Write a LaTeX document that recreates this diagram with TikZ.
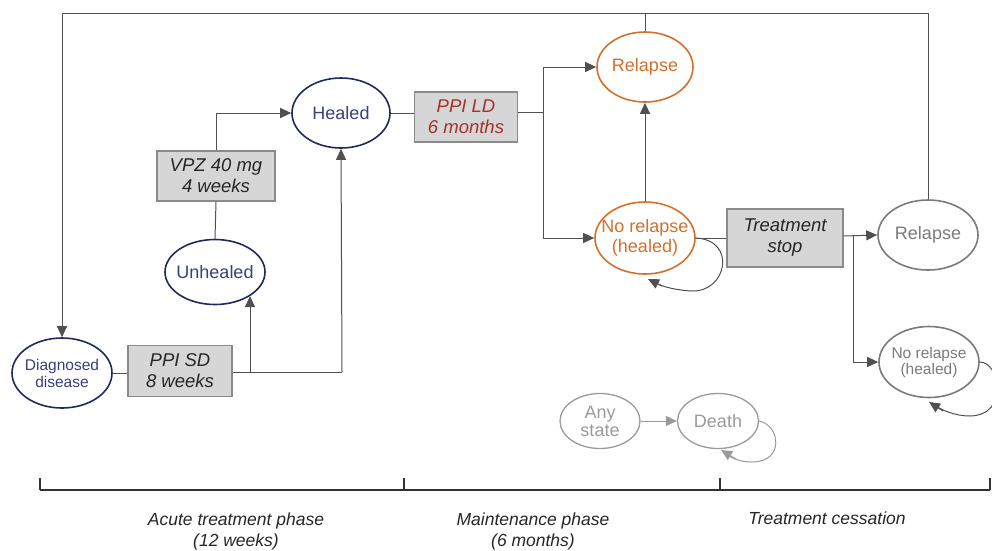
\documentclass[tikz,border=0pt]{standalone}
\usepackage{fontspec}
\setmainfont{Liberation Sans}
\usetikzlibrary{arrows.meta,shapes.geometric,calc}
\definecolor{navy}{HTML}{1E2A5E}
\definecolor{navytxt}{HTML}{3A3F7A}
\definecolor{orng}{HTML}{D2702C}
\definecolor{dred}{HTML}{A3322B}
\definecolor{gry}{HTML}{7A7A7A}
\definecolor{lgry}{HTML}{9A9A9A}
\definecolor{boxfill}{HTML}{D6D6D6}
\definecolor{boxline}{HTML}{8A8A8A}
\definecolor{lnk}{HTML}{505050}
\tikzset{
  st/.style={ellipse, draw, line width=1.6pt, inner sep=0pt, align=center},
  navyst/.style={st, draw=navy, text=navytxt, minimum width=98pt, minimum height=68pt},
  orst/.style={st, draw=orng, text=orng, minimum width=96pt, minimum height=70pt, font=\fontsize{18}{20}\selectfont},
  grst/.style={st, draw=gry, text=gry, minimum width=98pt, minimum height=70pt},
  ltst/.style={st, draw=lgry, text=lgry, line width=1.3pt, minimum width=80pt, minimum height=55pt, font=\fontsize{18}{18}\selectfont},
  tbox/.style={draw=boxline, fill=boxfill, line width=1.4pt, align=center, inner sep=0pt, font=\itshape\fontsize{18.5}{21}\selectfont},
  ln/.style={draw=lnk, line width=1pt},
  tip/.style={-{Triangle[length=11pt,width=10pt]}},
  arr/.style={ln, tip},
  ph/.style={font=\itshape\fontsize{17.5}{21}\selectfont, align=center, text=black!85}
}
\begin{document}
\begin{tikzpicture}[x=1pt,y=-1pt]
\useasboundingbox (0,0) rectangle (992,550);
% nodes
\node[navyst, minimum width=100pt, minimum height=70pt, inner xsep=-3pt, font=\fontsize{15.5}{17}\selectfont] (dd) at (62,373) {Diagnosed\\disease};
\node[tbox, minimum width=104pt, minimum height=51pt, text=black!85] (sd) at (180,371) {PPI SD\\8 weeks};
\node[navyst, minimum width=100pt, minimum height=65pt, inner xsep=-4.5pt, font=\fontsize{18}{20}\selectfont] (un) at (215,272) {Unhealed};
\node[tbox, minimum width=118pt, minimum height=50pt, text=black!85] (vpz) at (216,176) {VPZ 40 mg\\4 weeks};
\node[navyst, minimum width=98pt, minimum height=70pt, font=\fontsize{18}{20}\selectfont] (he) at (341,113) {Healed};
\node[tbox, minimum width=103pt, minimum height=50pt, text=dred] (ld) at (466,117) {PPI LD\\6 months};
\node[orst] (rl) at (645,67) {Relapse};
\node[orst, minimum width=100pt, minimum height=72pt, inner xsep=-8.5pt, font=\fontsize{18}{20}\selectfont] (nr) at (645,238) {No relapse\\(healed)};
\node[tbox, minimum width=116pt, minimum height=58pt, text=black!85] (ts) at (785,238) {Treatment\\stop};
\node[grst, minimum width=100pt, font=\fontsize{18}{20}\selectfont] (rg) at (928,235) {Relapse};
\node[grst, minimum width=100pt, minimum height=71pt, inner xsep=-4pt, font=\fontsize{15.5}{16}\selectfont] (ng) at (929,362) {No relapse\\(healed)};
\node[ltst] (any) at (600,421) {Any\\state};
\node[ltst, minimum width=81pt] (de) at (718,421) {Death};
% connectors, acute phase
\coordinate (j1) at (250,372);
\coordinate (j2) at (342,372);
\draw[ln] (dd.east) -- (sd.west |- dd.east);
\draw[ln] (sd.east |- j1) -- (j2);
\draw[arr] (j1) -- ($(un.center)+(35,24)$);
\draw[arr] (j2) -- (he.south);
\draw[ln] (un.north) -- (vpz.south);
\draw[arr] (vpz.north) |- (he.west);
% maintenance
\coordinate (j3) at (543,112);
\draw[ln] (he.east) -- (ld.west |- he.east);
\draw[ln] (ld.east |- j3) -- (j3);
\draw[arr] (j3) |- (rl.west);
\draw[arr] (j3) |- (nr.west);
\draw[arr] (nr.north) -- (rl.south);
\draw[ln] (nr.east) -- (ts.west);
\draw[ln] (nr.east) .. controls (737,240) and (727,292) .. (692,291)
  .. controls (672,290) and (657,285) .. (650,280);
\draw[arr] (662,286) -- (648,279);
% cessation
\coordinate (j4) at (853,236);
\draw[arr] (ts.east |- j4) -- (rg.west);
\draw[arr] (j4) |- (ng.west);
\draw[ln] (ng.east) .. controls (1000,362) and (1010,415) .. (970,416)
  .. controls (955,416) and (940,410) .. (932,403);
\draw[arr] (943,411) -- (929,402);
% top feedback
\coordinate (t1) at (62,13);
\coordinate (t2) at (928,13);
\draw[ln] (rl.north) -- (rl.north |- t1);
\draw[arr] (rg.north) -- (t2) -- (t1) -- (dd.north);
% death
\draw[ln, draw=lgry, tip] (any.east) -- (de.west);
\draw[ln, draw=lgry] (de.east) .. controls (780,425) and (785,462) .. (752,462)
  .. controls (740,462) and (730,458) .. (724,452);
\draw[draw=lgry, line width=1pt, tip] (736,459) -- (721,450);
% timeline
\coordinate (a0) at (40,490);
\coordinate (a1) at (404,490);
\coordinate (a2) at (720,490);
\coordinate (a3) at (990,490);
\draw[line width=1.3pt, black!80] (a0) -- (a3);
\foreach \p in {a0,a1,a2,a3} \draw[line width=1.1pt, black!80] (\p) -- ++(0,-12);
\node[ph] (p1) at (236,531) {Acute treatment phase\\(12 weeks)};
\node[ph] (p2) at (533,531) {Maintenance phase\\(6 months)};
\node[ph, anchor=north] (p3) at (827,508) {Treatment cessation};
\end{tikzpicture}
\end{document}
